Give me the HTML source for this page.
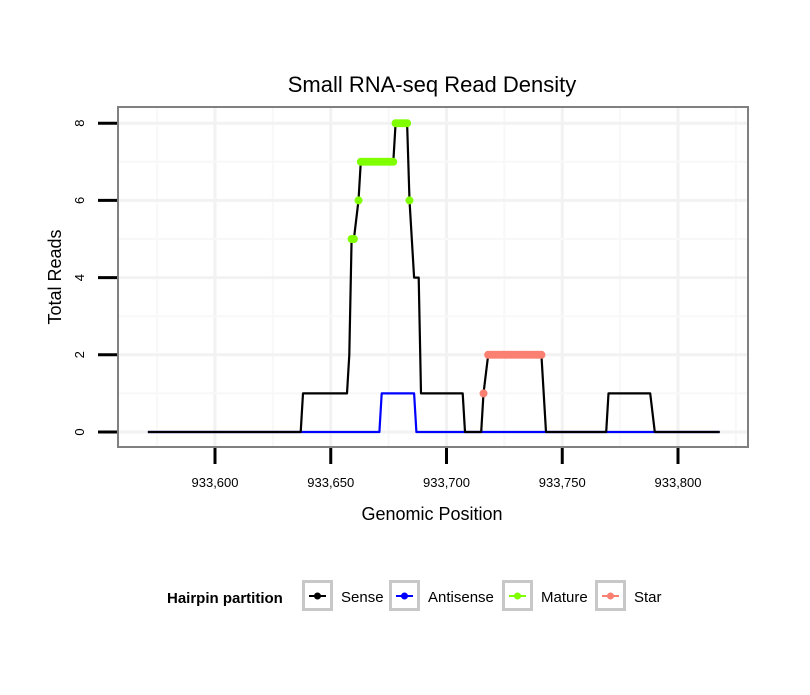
<!DOCTYPE html>
<html><head><meta charset="utf-8"><style>
body{margin:0;background:#fff;font-family:"Liberation Sans",sans-serif}
</style></head><body>
<svg id="c" width="810" height="690" xmlns="http://www.w3.org/2000/svg" font-family="Liberation Sans, sans-serif"></svg>
<script>
const xTicks=[933600,933650,933700,933750,933800];
const xTickLabels=["933,600","933,650","933,700","933,750","933,800"];
const yTicks=[0,2,4,6,8];
const sensePos=[933571,933637,933638,933657,933658,933659,933660,933662,933663,933677,933678,933683,933684,933686,933688,933689,933707,933708,933715,933716,933718,933741,933743,933769,933770,933788,933790,933818];
const senseVal=[0,0,1,1,2,5,5,6,7,7,8,8,6,4,4,1,1,0,0,1,2,2,0,0,1,1,0,0];
const antiPos=[933571,933671,933672,933686,933687,933818];
const antiVal=[0,0,1,1,0,0];
const maturePos=[933659,933660,933662,933663,933664,933665,933666,933667,933668,933669,933670,933671,933672,933673,933674,933675,933676,933677,933678,933679,933680,933681,933682,933683,933684];
const matureVal=[5,5,6,7,7,7,7,7,7,7,7,7,7,7,7,7,7,7,8,8,8,8,8,8,6];
const starPos=[933716,933718,933719,933720,933721,933722,933723,933724,933725,933726,933727,933728,933729,933730,933731,933732,933733,933734,933735,933736,933737,933738,933739,933740,933741];
const starVal=[1,2,2,2,2,2,2,2,2,2,2,2,2,2,2,2,2,2,2,2,2,2,2,2,2];

const svg=document.getElementById('c');
const NS='http://www.w3.org/2000/svg';
const X=v=>215+(v-933600)*2.315;
const Y=v=>432-v*38.6;
const P={l:118,r:748,t:107,b:447};
function el(t,a,p){const e=document.createElementNS(NS,t);for(const k in a)e.setAttribute(k,a[k]);(p||svg).appendChild(e);return e;}
function tx(s,a){const e=el('text',a);e.textContent=s;return e;}

const bg=el('rect',{x:P.l,y:P.t,width:P.r-P.l,height:P.b-P.t,fill:'#fff'});


const g=el('g',{});


for(let v=933575;v<=933825;v+=25){const x=X(v);if(x>P.l&&x<P.r)el('line',{x1:x,x2:x,y1:P.t,y2:P.b,stroke:v%50===0?'#f2f2f2':'#f8f8f8','stroke-width':v%50===0?3:2},g);}
for(let v=0;v<=8;v+=1){el('line',{x1:P.l,x2:P.r,y1:Y(v),y2:Y(v),stroke:v%2===0?'#f2f2f2':'#f8f8f8','stroke-width':v%2===0?3:2},g);}

function line(pos,val,color,name){
  const d=pos.map((p,i)=>(i?'L':'M')+X(p).toFixed(1)+','+Y(val[i]).toFixed(1)).join('');
  const e=el('path',{d:d,fill:'none',stroke:color,'stroke-width':2.2,'stroke-linejoin':'round'});
  
  
}
function pts(pos,val,color,name){
  const gg=el('g',{});
  
  
  pos.forEach((p,i)=>{const c=el('circle',{cx:X(p),cy:Y(val[i]),r:4,fill:color},gg);
    
    });
}
line(antiPos,antiVal,'#0000ff','antisense-line');
line(sensePos,senseVal,'#000','sense-line');
pts(maturePos,matureVal,'#7fff00','mature-points');
pts(starPos,starVal,'#fa8072','star-points');

const border=el('rect',{x:P.l,y:P.t,width:P.r-P.l,height:P.b-P.t,fill:'none',stroke:'#808080','stroke-width':2});



xTicks.forEach((v,i)=>{const x=X(v);
  el('line',{x1:x,x2:x,y1:P.b+1,y2:P.b+17,stroke:'#000','stroke-width':3});
  const t=tx(xTickLabels[i],{x:x,y:487,'font-size':13,'text-anchor':'middle',fill:'#000'});
  
  });
yTicks.forEach(v=>{const y=Y(v);
  el('line',{x1:98,x2:P.l-1,y1:y,y2:y,stroke:'#000','stroke-width':3});
  const t=tx(String(v),{x:0,y:0,'font-size':13,'text-anchor':'middle',transform:`translate(84,${y}) rotate(-90)`});
  
  });

let t=tx('Small RNA-seq Read Density',{x:432,y:92,'font-size':22,'text-anchor':'middle'});


t=tx('Genomic Position',{x:432,y:520,'font-size':18,'text-anchor':'middle'});


t=tx('Total Reads',{x:0,y:0,'font-size':18,'text-anchor':'middle',transform:'translate(61,277) rotate(-90)'});



const lg=el('g',{});


t=tx('Hairpin partition',{x:167,y:603,'font-size':15,'font-weight':'bold'});
lg.appendChild(t);


const legItems=[['Sense','#000',302],['Antisense','#0000ff',389],['Mature','#7fff00',502],['Star','#fa8072',595]];
legItems.forEach(([n,c,x])=>{
  const gi=el('g',{},lg);
  
  
  el('rect',{x:x+1.5,y:581.5,width:28,height:28,fill:'#fff',stroke:'#c8c8c8','stroke-width':3},gi);
  el('line',{x1:x+7,x2:x+24,y1:596,y2:596,stroke:c,'stroke-width':2},gi);
  el('circle',{cx:x+15.5,cy:596,r:3.5,fill:c},gi);
  const tt=el('text',{x:x+39,y:602,'font-size':15},gi);tt.textContent=n;
});
</script>
</body></html>
